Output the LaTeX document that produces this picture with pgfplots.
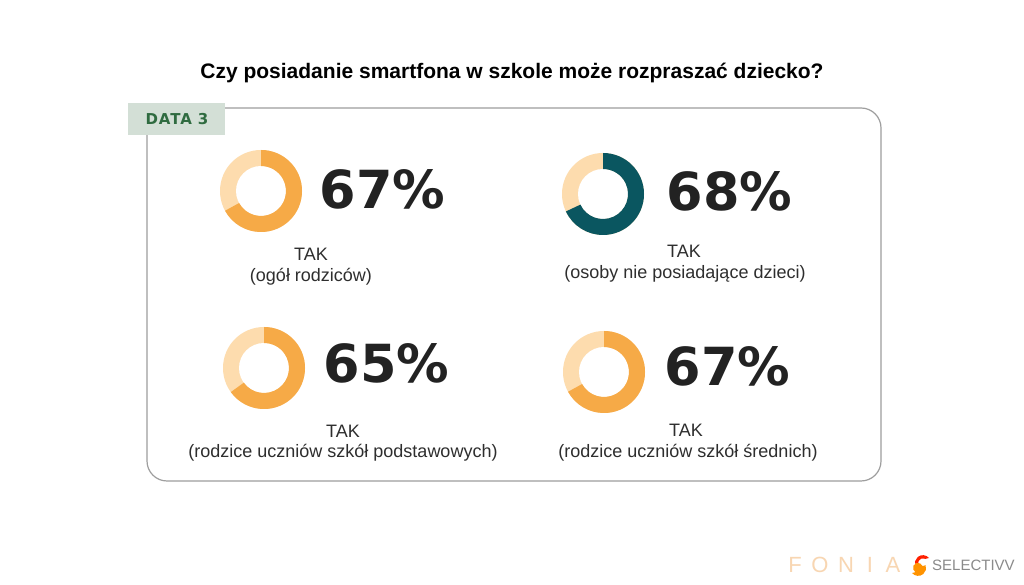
\documentclass[border=0pt]{standalone}
\usepackage{pgfplots}
\pgfplotsset{compat=1.18}
\usepackage{fontspec}
\setmainfont{Liberation Sans}
\newfontfamily\numfont{DejaVu Sans}
\definecolor{orD}{HTML}{F6AA47}
\definecolor{orL}{HTML}{FDDCAE}
\definecolor{teal}{HTML}{0A5660}
\definecolor{bord}{HTML}{9E9E9E}
\definecolor{tagbg}{HTML}{D3DFD6}
\definecolor{taggr}{HTML}{2F6B40}
\definecolor{numc}{HTML}{222222}
\definecolor{txtc}{HTML}{2E2E2E}
\definecolor{fonia}{HTML}{F8D6B2}
\definecolor{selg}{HTML}{8A8A8A}
\newcommand{\donut}[4]{%
  \fill[orL] (axis cs:#1,#2) circle[radius=41pt];
  \fill[white] (axis cs:#1,#2) circle[radius=25pt];
  \fill[#4] ([shift={(90:41pt)}]axis cs:#1,#2) arc[start angle=90,end angle={90-3.6*#3},radius=41pt]
     -- ([shift={({90-3.6*#3}:25pt)}]axis cs:#1,#2) arc[start angle={90-3.6*#3},end angle=90,radius=25pt] -- cycle;}
\begin{document}
\begin{tikzpicture}
\begin{axis}[x=1pt,y=1pt,xmin=0,xmax=1024,ymin=0,ymax=585,hide axis,clip=false,
  axis line style={draw=none},tick style={draw=none}]
\path[fill=white] (axis cs:0,0) rectangle (axis cs:1024,585);
% title
\node[font=\fontsize{21}{25}\selectfont\bfseries, text=black] at (axis cs:512,512) {Czy posiadanie smartfona w szkole może rozpraszać dziecko?};
% frame
\draw[bord, line width=1.2pt, rounded corners=20pt] (axis cs:147,104) rectangle (axis cs:881,477);
\fill[tagbg] (axis cs:128,450) rectangle (axis cs:225,482);
\node[font=\numfont\fontsize{15}{18}\selectfont\bfseries\addfontfeature{LetterSpace=6}, text=taggr] at (axis cs:177,466) {DATA 3};
% donuts
\donut{261}{394}{67}{orD}
\donut{603}{391}{68}{teal}
\donut{264}{217}{65}{orD}
\donut{604}{213}{67}{orD}
% numbers
\tikzset{bignum/.style={anchor=base west,inner sep=0pt,font=\numfont\fontsize{52.5}{60}\selectfont\bfseries,text=numc}}
\node[bignum] at (axis cs:319.5,376) {67\%};
\node[bignum] at (axis cs:666.5,374) {68\%};
\node[bignum] at (axis cs:323.5,202) {65\%};
\node[bignum] at (axis cs:664.5,199) {67\%};
% labels
\tikzset{lab/.style={font=\fontsize{18}{21}\selectfont,text=txtc,inner sep=0pt}}
\node[lab] at (axis cs:311,331) {TAK};
\node[lab] at (axis cs:311,308) {(ogół rodziców)};
\node[lab] at (axis cs:684,334) {TAK};
\node[lab] at (axis cs:685,311) {(osoby nie posiadające dzieci)};
\node[lab] at (axis cs:343,154) {TAK};
\node[lab] at (axis cs:343,132) {(rodzice uczniów szkół podstawowych)};
\node[lab] at (axis cs:686,155) {TAK};
\node[lab] at (axis cs:688,132) {(rodzice uczniów szkół średnich)};
% logos
\tikzset{fon/.style={font=\fontsize{22}{24}\selectfont,text=fonia,inner sep=0pt}}
\node[fon] at (axis cs:795,20) {F};
\node[fon] at (axis cs:820,20) {O};
\node[fon] at (axis cs:846,20) {N};
\node[fon] at (axis cs:870,20) {I};
\node[fon] at (axis cs:893,20) {A};
\fill[red!75!orange] (axis cs:929,27) arc[start angle=40,end angle=200,radius=8pt] -- ++(3pt,1pt) arc[start angle=200,end angle=60,radius=5pt] -- cycle;
\fill[orange!85!yellow] (axis cs:912,12) arc[start angle=220,end angle=380,radius=8pt] -- ++(-3pt,-1pt) arc[start angle=20,end angle=240,radius=5pt] -- cycle;
\node[font=\fontsize{15}{17}\selectfont,text=selg,inner sep=0pt,anchor=west] at (axis cs:932,20) {SELECTIVV};
\end{axis}
\end{tikzpicture}
\end{document}
